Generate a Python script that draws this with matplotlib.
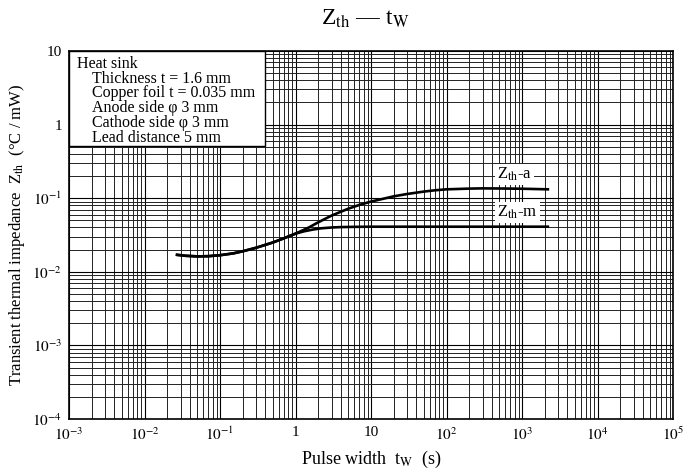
import numpy as np
import matplotlib.pyplot as plt
from matplotlib.patches import Rectangle
from matplotlib.ticker import LogLocator, FixedLocator, FixedFormatter

plt.rcParams['font.family'] = ['Liberation Serif', 'DejaVu Serif']
plt.rcParams['mathtext.fontset'] = 'stix'

# curve data (t in s, Z in degC/mW)
t_a = [0.027, 0.035, 0.05, 0.07, 0.1, 0.15, 0.2, 0.3, 0.5, 0.7, 1.0, 1.5, 2.0, 3.0,
       5.0, 7.0, 10, 15, 20, 30, 50, 70, 100, 200, 300, 500, 1000, 2200]
z_a = [0.0170, 0.0165, 0.0162, 0.0163, 0.0168, 0.0178, 0.0190, 0.0212, 0.0250, 0.0285,
       0.0330, 0.0400, 0.0470, 0.0580, 0.0720, 0.0810, 0.0900, 0.0990, 0.1060, 0.1140,
       0.1230, 0.1280, 0.1320, 0.1350, 0.1360, 0.1355, 0.1345, 0.1320]
t_m = [0.027, 0.035, 0.05, 0.07, 0.1, 0.15, 0.2, 0.3, 0.5, 0.7, 1.0, 1.3, 1.7, 2.2,
       3.0, 4.0, 6.0, 10, 100, 1000, 2200]
z_m = [0.0170, 0.0165, 0.0162, 0.0163, 0.0168, 0.0178, 0.0190, 0.0212, 0.0250, 0.0285,
       0.0330, 0.0355, 0.0375, 0.0390, 0.0400, 0.0405, 0.0408, 0.0410, 0.0410, 0.0410, 0.0410]

x_ticks = [1e-3, 1e-2, 1e-1, 1, 10, 1e2, 1e3, 1e4, 1e5]
x_labels = ['$10^{-3}$', '$10^{-2}$', '$10^{-1}$', '1', '10', '$10^{2}$', '$10^{3}$', '$10^{4}$', '$10^{5}$']
y_ticks = [1e-4, 1e-3, 1e-2, 1e-1, 1, 10]
y_labels = ['$10^{-4}$', '$10^{-3}$', '$10^{-2}$', '$10^{-1}$', '1', '10']

note_lines = ['Heat sink', 'Thickness t = 1.6 mm', 'Copper foil t = 0.035 mm',
              'Anode side \u03c6 3 mm', 'Cathode side \u03c6 3 mm', 'Lead distance 5 mm']

fig = plt.figure(figsize=(6.83, 4.71), dpi=100)
ax = fig.add_axes([69/683, 1 - 419/471, 604/683, 368/471])
ax.set_xscale('log')
ax.set_yscale('log')
ax.set_xlim(1e-3, 1e5)
ax.set_ylim(1e-4, 10)

ax.xaxis.set_major_locator(FixedLocator(x_ticks))
ax.xaxis.set_major_formatter(FixedFormatter(x_labels))
ax.yaxis.set_major_locator(FixedLocator(y_ticks))
ax.yaxis.set_major_formatter(FixedFormatter(y_labels))
ax.xaxis.set_minor_locator(LogLocator(base=10, subs=np.arange(2, 10), numticks=20))
ax.yaxis.set_minor_locator(LogLocator(base=10, subs=np.arange(2, 10), numticks=20))
ax.tick_params(which='both', length=0, labelsize=11, pad=5)
ax.xaxis.set_minor_formatter(plt.NullFormatter())
ax.yaxis.set_minor_formatter(plt.NullFormatter())

ax.grid(which='major', color='black', lw=0.8)
ax.grid(which='minor', color='#222222', lw=0.7)
ax.set_axisbelow(True)
for s in ax.spines.values():
    s.set_linewidth(1.2)

ax.plot(t_a, z_a, color='black', lw=1.9, zorder=4)
ax.plot(t_m, z_m, color='black', lw=1.9, zorder=4)

ax.text(470, 0.21, 'Z$_{\\mathrm{th}}$-a', fontsize=12, va='center', ha='left', zorder=5,
        bbox=dict(facecolor='white', edgecolor='none', pad=1.5))
ax.text(470, 0.064, 'Z$_{\\mathrm{th}}$-m', fontsize=12, va='center', ha='left', zorder=5,
        bbox=dict(facecolor='white', edgecolor='none', pad=1.5))

# note box in the upper left corner
box_bottom = 1 - (146 - 51) / 368
ax.add_patch(Rectangle((0, box_bottom), (265 - 69) / 604, 1 - box_bottom,
                       transform=ax.transAxes, facecolor='white', edgecolor='black',
                       lw=1.0, zorder=6, clip_on=False))
for i, line in enumerate(note_lines):
    xpos = 0.013 if i == 0 else 0.038
    ax.text(xpos, 0.965 - i * 0.0402, line, transform=ax.transAxes, fontsize=11.5,
            va='center', ha='left', zorder=7)

fig.text(365/683, 1 - 19/471, 'Z$_{\\mathrm{th}}$ \u2014 t$_{\\mathrm{W}}$', fontsize=17,
         ha='center', va='center')
ax.set_xlabel('Pulse width  t$_{\\mathrm{W}}$  (s)', fontsize=13, labelpad=4)
ax.set_ylabel('Transient thermal impedance  Z$_{\\mathrm{th}}$  (\u00b0C / mW)', fontsize=12, labelpad=4)

fig.savefig('out.png', dpi=100)
